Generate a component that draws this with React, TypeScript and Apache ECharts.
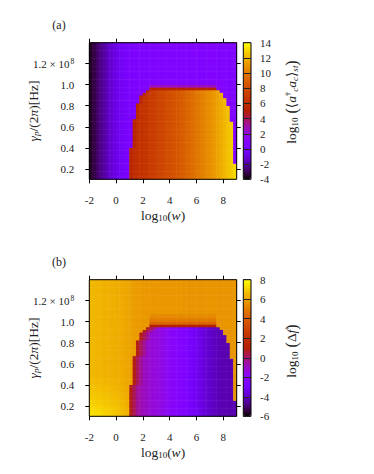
import React, { useEffect, useRef } from "react";
import * as echarts from "echarts";

// ---- axes / ticks ----
const xMin = -2;
const xMax = 9;
const yMin = 0.1;
const yMax = 1.4;
const xTicks = [-2, 0, 2, 4, 6, 8];
const yTicks = [0.2, 0.4, 0.6, 0.8, 1.0, 1.2];
const cbRangeA = [-4, 14];
const cbRangeB = [-6, 8];

// ---- cell grid (log10(w) columns, gamma_p/2pi rows in 1e8 Hz) ----
const xStep = 0.25;
const yStep = 0.025;
const nCols = 44;
const nRows = 52;

// dome boundary read per row (row r spans 0.1+0.025r .. 0.125+0.025r)
const domeLeft = [0.93, 0.95, 0.96, 0.98, 0.99, 1.01, 1.02, 1.04, 1.06, 1.08, 1.1, 1.12, 1.14, 1.16, 1.18, 1.2, 1.22, 1.24, 1.26, 1.28, 1.3, 1.33, 1.36, 1.39, 1.42, 1.46, 1.5, 1.56, 1.62, 1.68, 1.76, 1.86, 2.0, 2.2, 2.5];
const domeRight = [9.0, 8.96, 8.94, 8.92, 8.9, 8.89, 8.87, 8.86, 8.85, 8.83, 8.82, 8.8, 8.79, 8.78, 8.77, 8.76, 8.74, 8.72, 8.71, 8.69, 8.67, 8.64, 8.62, 8.6, 8.56, 8.52, 8.48, 8.43, 8.37, 8.3, 8.22, 8.12, 8.0, 7.85, 7.55];

// panel (a): log10(<a+a>) outside the dome, per column
const bgA = [-3.6, -3.2, -2.8, -2.4, -2.0, -1.6, -1.25, -0.9, -0.6, -0.3, -0.1, 0.1, 0.2, 0.3, 0.35, 0.4, 0.4, 0.4, 0.45, 0.45, 0.45, 0.45, 0.5, 0.5, 0.5, 0.5, 0.5, 0.5, 0.55, 0.55, 0.55, 0.55, 0.55, 0.55, 0.6, 0.6, 0.6, 0.6, 0.6, 0.6, 0.6, 0.6, 0.6, 0.6];
// panel (a): inside the dome, per column
const inA = [null, null, null, null, null, null, null, null, null, null, null, 5.8, 6.0, 6.15, 6.3, 6.45, 6.6, 6.8, 7.0, 7.2, 7.4, 7.6, 7.8, 8.0, 8.2, 8.4, 8.6, 8.8, 9.0, 9.2, 9.45, 9.7, 9.95, 10.2, 10.45, 10.7, 10.95, 11.2, 11.5, 11.8, 12.1, 12.4, 12.7, 13.0];
const edgeA = [5.5];
const bandA = 5.2;
const capA = [2.5];

// panel (b): log10(Δf) outside the dome, per column
const bgB = [6.5, 6.5, 6.45, 6.45, 6.4, 6.4, 6.35, 6.35, 6.3, 6.25, 6.2, 6.1, 6.0, 5.9, 5.85, 5.8, 5.8, 5.75, 5.75, 5.75, 5.75, 5.75, 5.75, 5.75, 5.75, 5.75, 5.75, 5.75, 5.7, 5.7, 5.7, 5.7, 5.7, 5.7, 5.7, 5.7, 5.7, 5.7, 5.7, 5.7, 5.7, 5.7, 5.7, 5.7];
const cornerRowB = [0.9, 0.85, 0.78, 0.7, 0.62, 0.55, 0.48, 0.42, 0.36, 0.3, 0.25, 0.2, 0.15, 0.11, 0.07, 0.04];
const cornerColB = [1, 1, 0.95, 0.9, 0.84, 0.78, 0.72, 0.65, 0.58, 0.5, 0.42, 0.35, 0.28];
// panel (b): inside the dome, per column
const inB = [null, null, null, null, null, null, null, null, null, null, null, 0.8, 0.5, 0.0, -0.4, -0.7, -0.9, -1.05, -1.2, -1.3, -1.4, -1.5, -1.65, -1.8, -1.95, -2.1, -2.25, -2.4, -2.55, -2.7, -2.9, -3.1, -3.3, -3.5, -3.7, -3.85, -4.0, -4.1, -4.2, -4.25, -4.3, -4.3, -4.3, -4.3];
const edgeB = [0.8, 0.2, -0.4];
const bandB = 1.0;
const capB = [4.3, 4.9, 5.2, 5.4];

const FONT = "'Liberation Serif', 'DejaVu Serif', serif";
const TXT = "#222";

const xCells = Array.from({ length: nCols }, (_, i) => xMin + xStep * (i + 0.5));
const yCells = Array.from({ length: nRows }, (_, i) => yMin + yStep * (i + 0.5));

function buildField(
  bg: number[],
  inside: (number | null)[],
  edge: number[],
  edgeMode: "min" | "max",
  band: number,
  cap: number[],
  liftRow?: number[],
  liftCol?: number[]
) {
  const out: number[][] = [];
  const nD = domeLeft.length;
  const topL = domeLeft[nD - 1];
  const topR = domeRight[nD - 1];
  for (let r = 0; r < nRows; r++) {
    const first = r < nD ? xCells.findIndex((xx) => xx >= domeLeft[r]) : -1;
    for (let c = 0; c < nCols; c++) {
      const x = xCells[c];
      let v: number;
      if (r < nD && x >= domeLeft[r] && x <= domeRight[r]) {
        if (r === nD - 1) v = band;
        else {
          v = inside[c] as number;
          const k = c - first;
          if (k < edge.length) v = edgeMode === "min" ? Math.min(v, edge[k]) : Math.max(v, edge[k]);
        }
      } else {
        v = bg[c];
        if (liftRow && liftCol) v += (liftRow[r] ?? 0) * (liftCol[c] ?? 0);
        const k = r - nD;
        if (k >= 0 && k < cap.length && x >= topL && x <= topR) v = cap[k];
      }
      out.push([c, r, v]);
    }
  }
  return out;
}

// gnuplot-like palette (rgbformulae 7,5,15)
const palette = Array.from({ length: 41 }, (_, i) => {
  const t = i / 40;
  const r = Math.round(255 * Math.sqrt(t));
  const g = Math.round(255 * Math.pow(t, 3));
  const b = Math.round(255 * Math.max(0, Math.sin(2 * Math.PI * t)));
  return `rgb(${r},${g},${b})`;
});

const PL = 89.3;
const PW = 147.4;
const PH = 136.6;
const TOPS = [42.7, 279.7];
const CBL = 243.3;
const CBW = 7.7;

export default function App() {
  const ref = useRef<HTMLDivElement>(null);
  useEffect(() => {
    if (!ref.current) return;
    const chart = echarts.init(ref.current, undefined, { renderer: "svg" });
    const fieldA = buildField(bgA, inA, edgeA, "min", bandA, capA);
    const fieldB = buildField(bgB, inB, edgeB, "max", bandB, capB, cornerRowB, cornerColB);

    const grids: any[] = [];
    const xAxes: any[] = [];
    const yAxes: any[] = [];
    const series: any[] = [];
    const xCats = xCells.map((v) => v.toFixed(3));
    const yCats = yCells.map((v) => v.toFixed(4));

    TOPS.forEach((top, p) => {
      grids.push({ left: PL, top, width: PW, height: PH });
      xAxes.push({ type: "category", gridIndex: p, data: xCats, show: false });
      yAxes.push({ type: "category", gridIndex: p, data: yCats, show: false });
      series.push({
        type: "heatmap",
        xAxisIndex: p,
        yAxisIndex: p,
        data: p === 0 ? fieldA : fieldB,
        progressive: 0,
        emphasis: { disabled: true },
        itemStyle: { borderWidth: 0 },
      });
    });
    const lbl = { fontFamily: FONT, fontSize: 11, color: TXT };
    TOPS.forEach((top, p) => {
      const gi = grids.length;
      grids.push({ left: PL, top, width: PW, height: PH, show: true, borderColor: "#000", borderWidth: 1, backgroundColor: "transparent", z: 10 });
      const tick = { show: true, inside: false, length: 4, lineStyle: { color: "#000", width: 1 } };
      xAxes.push({
        type: "value", gridIndex: gi, position: "bottom", min: xMin, max: xMax, z: 10,
        axisLine: { show: false, onZero: false }, splitLine: { show: false },
        axisTick: { ...tick, customValues: xTicks },
        axisLabel: { ...lbl, margin: 15, customValues: xTicks, formatter: (v: number) => String(v) },
      });
      xAxes.push({
        type: "value", gridIndex: gi, position: "top", min: xMin, max: xMax, z: 10,
        axisLine: { show: false, onZero: false }, splitLine: { show: false },
        axisTick: { ...tick, customValues: xTicks }, axisLabel: { show: false },
      });
      yAxes.push({
        type: "value", gridIndex: gi, position: "left", min: yMin, max: yMax, z: 10,
        axisLine: { show: false, onZero: false }, splitLine: { show: false },
        axisTick: { ...tick, customValues: yTicks },
        axisLabel: {
          ...lbl, margin: 15, customValues: yTicks,
          formatter: (v: number) => (Math.abs(v - 1.2) < 1e-6 ? "{n|1.2 × 10}{sup|8}" : v.toFixed(1)),
          rich: {
            n: { fontFamily: FONT, fontSize: 11, color: TXT },
            sup: { fontFamily: FONT, fontSize: 7.5, color: TXT, verticalAlign: "top", padding: [0, 0, 5, 1] },
          },
        },
      });
      yAxes.push({
        type: "value", gridIndex: gi, position: "right", min: yMin, max: yMax, z: 10,
        axisLine: { show: false, onZero: false }, splitLine: { show: false },
        axisTick: { ...tick, customValues: yTicks }, axisLabel: { show: false },
      });
      series.push({ type: "scatter", xAxisIndex: xAxes.length - 2, yAxisIndex: yAxes.length - 2, data: [] });
    });
    TOPS.forEach((top, p) => {
      const gi = grids.length;
      const rng = p === 0 ? cbRangeA : cbRangeB;
      grids.push({ left: CBL, top, width: CBW, height: PH, show: true, borderColor: "#000", borderWidth: 1, backgroundColor: "transparent", z: 10 });
      xAxes.push({ type: "value", gridIndex: gi, min: 0, max: 1, show: false });
      yAxes.push({
        type: "value", gridIndex: gi, position: "right", min: rng[0], max: rng[1], interval: 2, z: 10,
        axisLine: { show: false, onZero: false }, splitLine: { show: false },
        axisTick: { show: true, inside: true, length: CBW, lineStyle: { color: "#222", width: 1 } },
        axisLabel: { ...lbl, margin: 9, align: "left" },
      });
      series.push({ type: "scatter", xAxisIndex: xAxes.length - 1, yAxisIndex: yAxes.length - 1, data: [] });
    });

    const visualMap = TOPS.map((top, p) => ({
      type: "continuous",
      seriesIndex: p,
      min: (p === 0 ? cbRangeA : cbRangeB)[0],
      max: (p === 0 ? cbRangeA : cbRangeB)[1],
      inRange: { color: palette },
      left: CBL,
      top,
      itemWidth: CBW,
      itemHeight: PH,
      padding: 0,
      calculable: false,
      hoverLink: false,
      realtime: false,
    }));

    const rich = {
      n: { fontFamily: FONT, fontSize: 13.5, color: TXT },
      i: { fontFamily: FONT, fontSize: 13.5, color: TXT, fontStyle: "italic" },
      sub: { fontFamily: FONT, fontSize: 9, color: TXT, verticalAlign: "bottom" },
      subi: { fontFamily: FONT, fontSize: 9, color: TXT, fontStyle: "italic", verticalAlign: "bottom" },
      sup: { fontFamily: FONT, fontSize: 9, color: TXT, verticalAlign: "top" },
      big: { fontFamily: FONT, fontSize: 16, color: TXT },
      lab: { fontFamily: FONT, fontSize: 12, color: TXT },
    };
    const txt = (x: number, y: number, text: string, rot = 0) => ({
      type: "text",
      x,
      y,
      rotation: rot,
      z: 20,
      style: { text, rich, fontFamily: FONT, fontSize: 13, fill: TXT, align: "center", verticalAlign: "middle" },
    });
    const graphic: any[] = [];
    TOPS.forEach((top, p) => {
      const off = p === 0 ? 0 : 237;
      graphic.push(txt(59, 25 + off, p === 0 ? "{lab|(a)}" : "{lab|(b)}"));
      graphic.push(txt(PL + PW / 2, 215 + off, "{n|log}{sub|10}{n|(}{i|w}{n|)}"));
      graphic.push(txt(33, 111 + off, "{i|γ}{subi|p}{n|/(2}{i|π}{n|)[Hz]}", Math.PI / 2));
    });
    graphic.push(txt(291, 102, "{n|log}{sub|10}{big| (}{n|⟨}{i|a}{sup|†}{subi|c}{i|a}{subi|c}{n|⟩}{subi|st}{big|)}", Math.PI / 2));
    graphic.push(txt(291, 351, "{n|log}{sub|10}{big| (}{n|Δ}{i|f}{big|)}", Math.PI / 2));

    chart.setOption({
      animation: false,
      backgroundColor: "#fff",
      grid: grids,
      xAxis: xAxes,
      yAxis: yAxes,
      visualMap,
      series,
      graphic,
    });
    return () => chart.dispose();
  }, []);
  return (
    <div
      ref={ref}
      style={{ position: "fixed", left: 0, top: 0, width: 374, height: 474, background: "#fff" }}
    />
  );
}
